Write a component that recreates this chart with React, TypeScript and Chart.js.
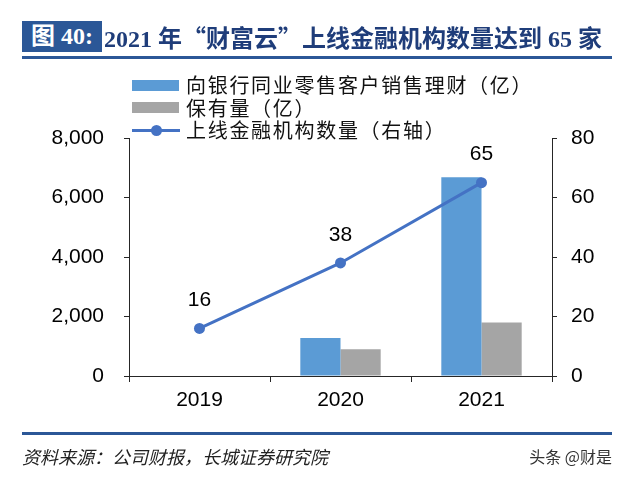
import React, { useEffect, useRef } from "react";
import { Chart, registerables } from "chart.js";

Chart.register(...registerables);

const categories = ["2019", "2020", "2021"];
const salesValues = [null, 1280, 6680];
const holdingValues = [null, 900, 1800];
const institutionCounts = [16, 38, 65];
const leftTicks = [0, 2000, 4000, 6000, 8000];
const rightTicks = [0, 20, 40, 60, 80];

const legendNames = ["向银行同业零售客户销售理财（亿）", "保有量（亿）", "上线金融机构数量（右轴）"];
const titleTag = "图 40:";
const titleText = "2021 年“财富云”上线金融机构数量达到 65 家";
const sourceText = "资料来源：公司财报，长城证券研究院";
const watermark = "头条 @财是";

const BLUE = "#5B9BD5";
const GRAY = "#A5A5A5";
const LINE = "#4472C4";
const NAVY = "#2B5797";
const AXIS = "#262626";
const TICK_FONT = { family: "'Liberation Sans', Arial, sans-serif", size: 21 };

const labelPlugin = {
  id: "pointLabels",
  afterDatasetsDraw(chart: any) {
    const meta = chart.getDatasetMeta(2);
    const ctx = chart.ctx;
    ctx.save();
    ctx.font = "21px 'Liberation Sans', Arial, sans-serif";
    ctx.fillStyle = "#000";
    ctx.textAlign = "center";
    ctx.textBaseline = "middle";
    meta.data.forEach((p: any, i: number) => {
      ctx.fillText(String(institutionCounts[i]), p.x, p.y - 28);
    });
    ctx.restore();
  },
};

export default function App() {
  const ref = useRef<HTMLCanvasElement | null>(null);

  useEffect(() => {
    if (!ref.current) return;
    const chart = new Chart(ref.current, {
      type: "bar",
      data: {
        labels: categories,
        datasets: [
          {
            type: "bar",
            label: legendNames[0],
            data: salesValues as any,
            backgroundColor: BLUE,
            yAxisID: "y",
            order: 1,
            categoryPercentage: 0.57,
            barPercentage: 1,
          },
          {
            type: "bar",
            label: legendNames[1],
            data: holdingValues as any,
            backgroundColor: GRAY,
            yAxisID: "y",
            order: 1,
            categoryPercentage: 0.57,
            barPercentage: 1,
          },
          {
            type: "line",
            label: legendNames[2],
            data: institutionCounts,
            borderColor: LINE,
            backgroundColor: LINE,
            borderWidth: 3,
            pointRadius: 5.5,
            pointBackgroundColor: LINE,
            pointBorderWidth: 0,
            yAxisID: "y1",
            order: 0,
          } as any,
        ],
      },
      options: {
        responsive: false,
        animation: false,
        layout: { padding: { top: 138, left: 0, right: 0, bottom: 0 } },
        plugins: { legend: { display: false }, tooltip: { enabled: false } },
        scales: {
          x: {
            grid: { display: true, drawOnChartArea: false, drawTicks: true, tickLength: 6, color: AXIS, offset: true },
            border: { display: true, color: AXIS, width: 1 },
            ticks: { color: "#000", font: TICK_FONT, padding: 6 },
            afterFit: (s: any) => { s.height = 102; },
          },
          y: {
            position: "left",
            min: leftTicks[0],
            max: leftTicks[leftTicks.length - 1],
            afterBuildTicks: (s: any) => { s.ticks = leftTicks.map((v) => ({ value: v })); },
            grid: { display: true, drawOnChartArea: false, drawTicks: true, tickLength: 5, color: AXIS },
            border: { display: true, color: AXIS, width: 1 },
            ticks: {
              color: "#000",
              font: TICK_FONT,
              padding: 20,
              callback: (v: any) => Number(v).toLocaleString("en-US"),
            },
            afterFit: (s: any) => { s.width = 129; },
          },
          y1: {
            position: "right",
            min: rightTicks[0],
            max: rightTicks[rightTicks.length - 1],
            afterBuildTicks: (s: any) => { s.ticks = rightTicks.map((v) => ({ value: v })); },
            grid: { display: true, drawOnChartArea: false, drawTicks: true, tickLength: 5, color: AXIS },
            border: { display: true, color: AXIS, width: 1 },
            ticks: { color: "#000", font: TICK_FONT, padding: 14 },
            afterFit: (s: any) => { s.width = 88; },
          },
        },
      } as any,
      plugins: [labelPlugin],
    });
    return () => chart.destroy();
  }, []);

  const cjk = "'Noto Sans CJK SC', 'Noto Sans', sans-serif";
  const titleParts = titleText.split(/([“”])/);

  return (
    <div style={{ position: "absolute", left: 0, top: 0, width: 640, height: 478, background: "#fff", overflow: "hidden" }}>
      <canvas ref={ref} width={640} height={478} style={{ position: "absolute", left: 0, top: 0 }} />
      {/* Title */}
      <div
        style={{
          position: "absolute", left: 22, top: 21, width: 80, height: 31, background: NAVY,
          color: "#fff", fontFamily: `'Liberation Serif', ${cjk}`, fontWeight: "bold", fontSize: 24,
          lineHeight: "31px", textAlign: "center", whiteSpace: "nowrap",
        }}
      >
        {titleTag}
      </div>
      <div
        style={{
          position: "absolute", left: 104, top: 21, height: 31, color: "#1F3D7A",
          fontFamily: `'Liberation Serif', ${cjk}`, fontWeight: "bold", fontSize: 24,
          lineHeight: "31px", whiteSpace: "nowrap",
        }}
      >
        {titleParts.map((part, i) =>
          part === "“" || part === "”" ? (
            <span key={i} style={{ fontFamily: cjk, display: "inline-block", width: 24, textAlign: part === "“" ? "right" : "left" }}>
              {part}
            </span>
          ) : (
            <span key={i}>{part}</span>
          )
        )}
      </div>
      <div style={{ position: "absolute", left: 22, top: 56, width: 590, height: 3, background: NAVY }} />
      {/* Legend */}
      <div style={{ position: "absolute", left: 132, top: 74, fontFamily: cjk, fontSize: 20, color: "#111", letterSpacing: 1.7 }}>
        {legendNames.map((name, i) => (
          <div key={i} style={{ display: "flex", alignItems: "center", height: 22.5, whiteSpace: "nowrap" }}>
            <div style={{ position: "relative", width: 47, height: 11, marginRight: 7 }}>
              {i < 2 ? (
                <div style={{ width: 47, height: 11, background: i === 0 ? BLUE : GRAY }} />
              ) : (
                <>
                  <div style={{ position: "absolute", left: 0, top: 4, width: 48, height: 3, background: LINE }} />
                  <div style={{ position: "absolute", left: 19, top: 0, width: 11, height: 11, borderRadius: "50%", background: LINE }} />
                </>
              )}
            </div>
            <span style={{ lineHeight: "22px" }}>{name}</span>
          </div>
        ))}
      </div>
      {/* Footer */}
      <div style={{ position: "absolute", left: 22, top: 432, width: 590, height: 3, background: NAVY }} />
      <div
        style={{
          position: "absolute", left: 22, top: 444, fontFamily: cjk, fontStyle: "italic", fontSize: 18,
          color: "#222", whiteSpace: "nowrap", lineHeight: "24px",
        }}
      >
        {sourceText}
      </div>
      <div
        style={{
          position: "absolute", right: 28, top: 445, fontFamily: cjk, fontSize: 16, color: "#333",
          whiteSpace: "nowrap", lineHeight: "22px",
        }}
      >
        {watermark}
      </div>
    </div>
  );
}
